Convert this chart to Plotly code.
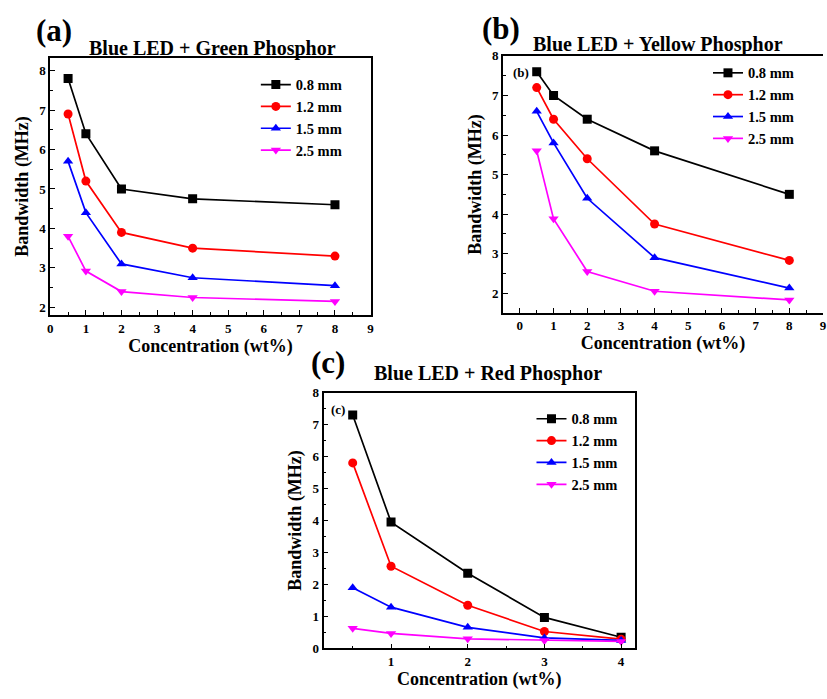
import plotly.graph_objects as go

# Concentrations (wt%)
conc_ab = [0.5, 1, 2, 4, 8]
conc_c = [0.5, 1, 2, 3, 4]

thickness = ["0.8 mm", "1.2 mm", "1.5 mm", "2.5 mm"]

# Bandwidth (MHz), Blue LED + Green Phosphor
green_08 = [7.8, 6.4, 5.0, 4.75, 4.6]
green_12 = [6.9, 5.2, 3.9, 3.5, 3.3]
green_15 = [5.7, 4.4, 3.1, 2.75, 2.55]
green_25 = [3.8, 2.92, 2.4, 2.25, 2.15]

# Bandwidth (MHz), Blue LED + Yellow Phosphor
yellow_08 = [7.6, 7.0, 6.4, 5.6, 4.5]
yellow_12 = [7.2, 6.4, 5.4, 3.75, 2.83]
yellow_15 = [6.6, 5.8, 4.4, 2.9, 2.13]
yellow_25 = [5.6, 3.88, 2.55, 2.05, 1.83]

# Bandwidth (MHz), Blue LED + Red Phosphor
red_08 = [7.3, 3.95, 2.35, 0.97, 0.35]
red_12 = [5.8, 2.57, 1.35, 0.53, 0.29]
red_15 = [1.9, 1.29, 0.66, 0.33, 0.25]
red_25 = [0.63, 0.47, 0.3, 0.25, 0.22]

colors = ["#000000", "#ff0000", "#0000ff", "#ff00ff"]
symbols = ["square", "circle", "triangle-up", "triangle-down"]

FONT = "Liberation Serif"
W, H = 827, 699

fig = go.Figure()

panels = [
    ("x", "y", "legend", conc_ab, [green_08, green_12, green_15, green_25]),
    ("x2", "y2", "legend2", conc_ab, [yellow_08, yellow_12, yellow_15, yellow_25]),
    ("x3", "y3", "legend3", conc_c, [red_08, red_12, red_15, red_25]),
]

for xa, ya, lg, xs, series in panels:
    for name, ys, c, s in zip(thickness, series, colors, symbols):
        fig.add_trace(go.Scatter(
            x=xs, y=ys, name=f"<b>{name}</b>", mode="lines+markers",
            xaxis=xa, yaxis=ya, legend=lg,
            line=dict(color=c, width=1.7),
            marker=dict(symbol=s, size=9, color=c),
        ))


def px_x(v):
    return v / W


def px_y(v):
    return 1 - v / H


def axis(domain, rng, dtick, mirror=True, title=None, standoff=4):
    d = dict(
        domain=domain, range=rng, dtick=dtick,
        showline=True, linecolor="black", linewidth=1.7, mirror=mirror,
        ticks="inside", ticklen=5, tickwidth=1.3, tickcolor="black",
        minor=dict(ticks="inside", ticklen=3, tickwidth=1.2, dtick=dtick / 2, tickcolor="black"),
        showgrid=False, zeroline=False,
        tickfont=dict(family=FONT, size=13, color="black", weight="bold"),
    )
    if title:
        d["title"] = dict(text=title, font=dict(family=FONT, size=18, color="black"), standoff=standoff)
    return d


xlab = "<b>Concentration (wt%)</b>"
ylab = "<b>Bandwidth (MHz)</b>"

legend_common = dict(
    font=dict(family=FONT, size=14.5, color="black"),
    bgcolor="rgba(0,0,0,0)", borderwidth=0,
    xanchor="left", yanchor="top", tracegroupgap=0, itemwidth=30,
)

fig.update_layout(
    width=W, height=H,
    margin=dict(l=0, r=0, t=0, b=0),
    paper_bgcolor="white", plot_bgcolor="white",
    font=dict(family=FONT, color="black"),
    xaxis=axis([px_x(47.7), px_x(370.7)], [0, 9], 1, title=xlab, standoff=3),
    yaxis=axis([px_y(315), px_y(51.7)], [1.8, 8.33], 1, title=ylab, standoff=6),
    xaxis2=dict(axis([px_x(504.3), 1.0], [-0.5, 9.0], 1, title=xlab, standoff=3), anchor="y2"),
    yaxis2=dict(axis([px_y(312.7), px_y(50)], [1.5, 8], 1, mirror=False, title=ylab, standoff=6), anchor="x2"),
    xaxis3=dict(axis([px_x(323.3), px_x(637.3)], [0.12, 4.18], 1, title=xlab, standoff=3), anchor="y3"),
    yaxis3=dict(axis([px_y(655.5), px_y(394)], [0, 8], 1, title=ylab, standoff=6), anchor="x3"),
    legend=dict(legend_common, x=px_x(255), y=px_y(63)),
    legend2=dict(legend_common, x=px_x(711), y=px_y(51)),
    legend3=dict(legend_common, x=px_x(533), y=px_y(404.5)),
    showlegend=True,
)

annots = [
    ("<b>(a)</b>", 51, 24, 31),
    ("<b>(b)</b>", 502, 22, 31),
    ("<b>(c)</b>", 328, 363, 31),
    ("<b>Blue LED + Green Phosphor</b>", 211, 42, 20),
    ("<b>Blue LED + Yellow Phosphor</b>", 661, 38, 20),
    ("<b>Blue LED + Red Phosphor</b>", 489, 375, 20),
    ("<b>(b)</b>", 522, 67, 13),
    ("<b>(c)</b>", 338, 411, 13),
]
for text, ax, ay, size in annots:
    fig.add_annotation(
        text=text, xref="paper", yref="paper", x=px_x(ax), y=px_y(ay),
        xanchor="center", yanchor="middle", showarrow=False,
        font=dict(family=FONT, size=size, color="black"),
    )

fig.write_html("out.html")
